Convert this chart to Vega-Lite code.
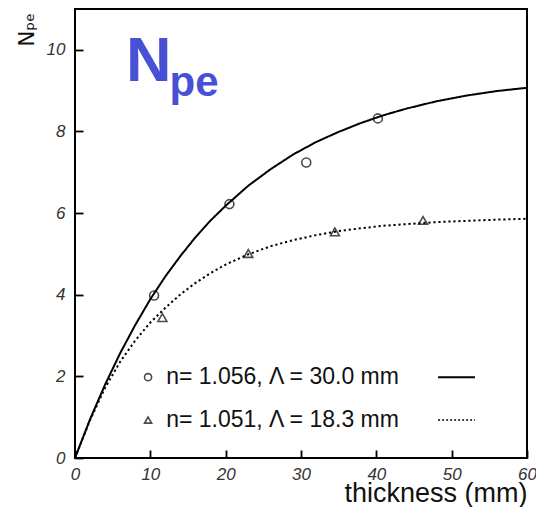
{
  "$schema": "https://vega.github.io/schema/vega-lite/v6.json",
  "width": 452,
  "height": 449,
  "autosize": {"type": "none"},
  "padding": {"left": 75, "top": 9, "right": 9, "bottom": 49},
  "background": "white",
  "config": {
    "view": {"stroke": "black", "strokeWidth": 2},
    "axis": {
      "domain": false,
      "ticks": false,
      "tickSize": 0,
      "grid": true,
      "gridColor": "black",
      "gridOpacity": 1,
      "gridWidth": 1.8,
      "gridCap": "butt",
      "zindex": 1,
      "labelFont": "Liberation Sans",
      "labelFontStyle": "italic",
      "labelFontSize": 17,
      "labelColor": "#333333",
      "labelOverlap": false,
      "labelFlush": false
    }
  },
  "datasets": {
    "curves": [
      {"series": "solid", "thickness": 0, "npe": 0},
      {"series": "solid", "thickness": 2, "npe": 0.95},
      {"series": "solid", "thickness": 4, "npe": 1.8},
      {"series": "solid", "thickness": 6, "npe": 2.57},
      {"series": "solid", "thickness": 8, "npe": 3.26},
      {"series": "solid", "thickness": 10, "npe": 3.89},
      {"series": "solid", "thickness": 12, "npe": 4.45},
      {"series": "solid", "thickness": 14, "npe": 4.95},
      {"series": "solid", "thickness": 16, "npe": 5.41},
      {"series": "solid", "thickness": 18, "npe": 5.82},
      {"series": "solid", "thickness": 20, "npe": 6.18},
      {"series": "solid", "thickness": 23, "npe": 6.67},
      {"series": "solid", "thickness": 26, "npe": 7.08},
      {"series": "solid", "thickness": 29, "npe": 7.44},
      {"series": "solid", "thickness": 32, "npe": 7.74},
      {"series": "solid", "thickness": 35, "npe": 7.99},
      {"series": "solid", "thickness": 38, "npe": 8.21},
      {"series": "solid", "thickness": 41, "npe": 8.4},
      {"series": "solid", "thickness": 44, "npe": 8.56},
      {"series": "solid", "thickness": 48, "npe": 8.74},
      {"series": "solid", "thickness": 52, "npe": 8.88},
      {"series": "solid", "thickness": 56, "npe": 8.99},
      {"series": "solid", "thickness": 60, "npe": 9.07},
      {"series": "dotted", "thickness": 0, "npe": 0},
      {"series": "dotted", "thickness": 2, "npe": 0.93},
      {"series": "dotted", "thickness": 4, "npe": 1.72},
      {"series": "dotted", "thickness": 6, "npe": 2.36},
      {"series": "dotted", "thickness": 8, "npe": 2.88},
      {"series": "dotted", "thickness": 10, "npe": 3.32},
      {"series": "dotted", "thickness": 12, "npe": 3.68},
      {"series": "dotted", "thickness": 14, "npe": 4.01},
      {"series": "dotted", "thickness": 16, "npe": 4.29},
      {"series": "dotted", "thickness": 18, "npe": 4.53},
      {"series": "dotted", "thickness": 20, "npe": 4.74},
      {"series": "dotted", "thickness": 23, "npe": 4.99},
      {"series": "dotted", "thickness": 26, "npe": 5.19},
      {"series": "dotted", "thickness": 29, "npe": 5.34},
      {"series": "dotted", "thickness": 32, "npe": 5.46},
      {"series": "dotted", "thickness": 35, "npe": 5.56},
      {"series": "dotted", "thickness": 38, "npe": 5.63},
      {"series": "dotted", "thickness": 41, "npe": 5.69},
      {"series": "dotted", "thickness": 44, "npe": 5.73},
      {"series": "dotted", "thickness": 48, "npe": 5.78},
      {"series": "dotted", "thickness": 52, "npe": 5.81},
      {"series": "dotted", "thickness": 56, "npe": 5.84},
      {"series": "dotted", "thickness": 60, "npe": 5.86}
    ],
    "points": [
      {"series": "n=1.056", "thickness": 10.5, "npe": 3.98},
      {"series": "n=1.056", "thickness": 20.5, "npe": 6.22},
      {"series": "n=1.056", "thickness": 30.7, "npe": 7.24},
      {"series": "n=1.056", "thickness": 40.2, "npe": 8.32},
      {"series": "n=1.051", "thickness": 11.6, "npe": 3.44},
      {"series": "n=1.051", "thickness": 23.0, "npe": 5.01},
      {"series": "n=1.051", "thickness": 34.5, "npe": 5.54},
      {"series": "n=1.051", "thickness": 46.2, "npe": 5.82}
    ]
  },
  "resolve": {"axis": {"x": "independent", "y": "independent"}},
  "layer": [
    {
      "data": {"name": "curves"},
      "mark": {"type": "line", "color": "black", "strokeWidth": 2, "strokeCap": "butt"},
      "encoding": {
        "x": {
          "field": "thickness",
          "type": "quantitative",
          "scale": {"domain": [0, 60], "nice": false, "zero": false},
          "axis": {
            "orient": "bottom",
            "values": [0, 10, 20, 30, 40, 50, 60],
            "format": "d",
            "gridDash": [0, 441, 8, 2000],
            "labelPadding": 8,
            "title": "thickness (mm)",
            "titleFont": "Liberation Sans",
            "titleFontSize": 27,
            "titleFontWeight": "normal",
            "titleColor": "#111111",
            "titleAnchor": "end",
            "titleAlign": "right",
            "titleBaseline": "alphabetic",
            "titleX": 452,
            "titleY": 43
          }
        },
        "y": {
          "field": "npe",
          "type": "quantitative",
          "scale": {"domain": [0, 11], "nice": false, "zero": false},
          "axis": {
            "orient": "left",
            "values": [0, 2, 4, 6, 8, 10],
            "format": "d",
            "gridDash": [8, 2000],
            "labelPadding": 10,
            "title": "Nₚₑ",
            "titleFont": "DejaVu Sans",
            "titleFontSize": 21,
            "titleFontWeight": "normal",
            "titleColor": "#111111",
            "titleAngle": -90,
            "titleAlign": "left",
            "titleBaseline": "alphabetic",
            "titleX": -42,
            "titleY": 37
          }
        },
        "strokeDash": {
          "field": "series",
          "type": "nominal",
          "scale": {"domain": ["solid", "dotted"], "range": [[1, 0], [2.2, 2.8]]},
          "legend": null
        }
      }
    },
    {
      "data": {"name": "points"},
      "mark": {"type": "point", "filled": false, "color": "black", "strokeWidth": 1.6, "size": 80},
      "encoding": {
        "x": {
          "field": "thickness",
          "type": "quantitative",
          "axis": {
            "orient": "bottom",
            "values": [2,4,6,8,12,14,16,18,22,24,26,28,32,34,36,38,42,44,46,48,52,54,56,58],
            "gridDash": [0, 445, 4, 2000],
            "labels": false,
            "title": null
          }
        },
        "y": {
          "field": "npe",
          "type": "quantitative",
          "axis": {
            "orient": "left",
            "values": [0.5,1,1.5,2.5,3,3.5,4.5,5,5.5,6.5,7,7.5,8.5,9,9.5,10.5],
            "gridDash": [5, 2000],
            "labels": false,
            "title": null
          }
        },
        "shape": {
          "field": "series",
          "type": "nominal",
          "scale": {"domain": ["n=1.056", "n=1.051"], "range": ["circle", "triangle-up"]},
          "legend": null
        }
      }
    },
    {
      "data": {"values": [{"label": "n= 1.056, Λ = 30.0 mm"}]},
      "layer": [
        {"mark": {"type": "point", "shape": "circle", "filled": false, "color": "black", "strokeWidth": 1.6, "size": 50}, "encoding": {"x": {"datum": 9.7, "type": "quantitative", "axis": null}, "y": {"datum": 1.98, "type": "quantitative", "axis": null}}},
        {"mark": {"type": "text", "align": "left", "baseline": "middle", "font": "Liberation Sans", "fontSize": 23, "color": "#111111"}, "encoding": {"x": {"datum": 12.1, "type": "quantitative", "axis": null}, "y": {"datum": 1.98, "type": "quantitative", "axis": null}, "text": {"field": "label"}}},
        {"mark": {"type": "rule", "color": "black", "strokeWidth": 2}, "encoding": {"x": {"datum": 48.2, "type": "quantitative", "axis": null}, "x2": {"datum": 53.1}, "y": {"datum": 1.98, "type": "quantitative", "axis": null}}}
      ]
    },
    {
      "data": {"values": [{"label": "n= 1.051, Λ = 18.3 mm"}]},
      "layer": [
        {"mark": {"type": "point", "shape": "triangle-up", "filled": false, "color": "black", "strokeWidth": 1.6, "size": 50}, "encoding": {"x": {"datum": 9.7, "type": "quantitative", "axis": null}, "y": {"datum": 0.93, "type": "quantitative", "axis": null}}},
        {"mark": {"type": "text", "align": "left", "baseline": "middle", "font": "Liberation Sans", "fontSize": 23, "color": "#111111"}, "encoding": {"x": {"datum": 12.1, "type": "quantitative", "axis": null}, "y": {"datum": 0.93, "type": "quantitative", "axis": null}, "text": {"field": "label"}}},
        {"mark": {"type": "rule", "color": "black", "strokeWidth": 1.5, "strokeDash": [2, 2]}, "encoding": {"x": {"datum": 48.2, "type": "quantitative", "axis": null}, "x2": {"datum": 53.1}, "y": {"datum": 0.93, "type": "quantitative", "axis": null}}}
      ]
    },
    {
      "data": {"values": [{"t": "N"}]},
      "mark": {"type": "text", "align": "left", "baseline": "alphabetic", "font": "Liberation Sans", "fontWeight": "bold", "fontSize": 63, "color": "#4850d6"},
      "encoding": {"x": {"datum": 6.77, "type": "quantitative", "axis": null}, "y": {"datum": 9.24, "type": "quantitative", "axis": null}, "text": {"field": "t"}}
    },
    {
      "data": {"values": [{"t": "pe"}]},
      "mark": {"type": "text", "align": "left", "baseline": "alphabetic", "font": "Liberation Sans", "fontWeight": "bold", "fontSize": 42, "color": "#4850d6"},
      "encoding": {"x": {"datum": 12.55, "type": "quantitative", "axis": null}, "y": {"datum": 8.87, "type": "quantitative", "axis": null}, "text": {"field": "t"}}
    }
  ]
}
